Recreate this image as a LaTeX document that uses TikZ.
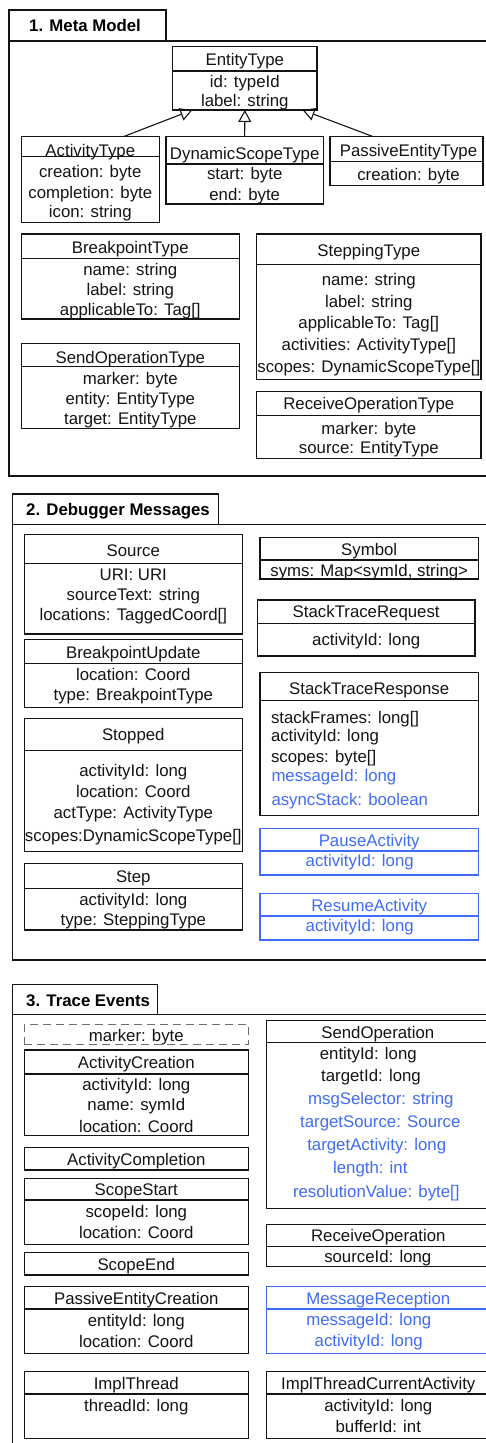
\documentclass[tikz,border=0pt]{standalone}
\usepackage{fontspec}
\setmainfont{Liberation Sans}
\usetikzlibrary{arrows.meta,calc}

\definecolor{ink}{RGB}{20,20,20}
\definecolor{newblue}{RGB}{64,108,245}
\definecolor{dashgray}{RGB}{110,110,110}

\newcounter{lblno}

% class box: [colour] name, x1, y1, x2, y2, divider y (empty for none)
\newcommand\umlbox[7][ink]{%
  \node[boxshape, draw=#1, minimum width=#5-#3, minimum height=#6-#4,
        anchor=north west] (#2) at (#3,#4) {};
  \ifx\relax#7\relax\else\draw[#1, line width=1.2pt] (#3,#7) -- (#5,#7);\fi
}
% one line of text, placed on its baseline: [colour] x, y, text
\newcommand\lbl[4][ink]{%
  \stepcounter{lblno}%
  \node[txt, text=#1] (l\arabic{lblno}) at (#2,#3) {#4};%
}
% left-aligned line of text
\newcommand\lbll[4][ink]{%
  \stepcounter{lblno}%
  \node[txt, anchor=base west, text=#1] (l\arabic{lblno}) at (#2,#3) {#4};%
}

\tikzset{
  boxshape/.style={rectangle, line width=1.2pt, inner sep=0pt, outer sep=0pt},
  txt/.style={anchor=base, inner sep=0pt, outer sep=0pt,
              font=\fontsize{16.8}{20}\selectfont},
  tabtitle/.style={anchor=base west, inner sep=0pt,
                   font=\fontsize{16.8}{20}\selectfont\bfseries},
  frameline/.style={draw=ink, line width=1.3pt},
  inh/.style={draw=ink, line width=1.1pt,
              -{Triangle[open, length=12pt, width=13pt]}},
}

\begin{document}
\begin{tikzpicture}[x=1pt, y=-1pt]
\useasboundingbox (0,0) rectangle (486,1443);
\fill[white] (0,0) rectangle (486,1443);
\clip (0,0) rectangle (486,1443);

% ---------- frames ----------
\draw[frameline] (9,10) rectangle (166,41);
\draw[frameline] (9,41) rectangle (520,476);
\node[tabtitle] (f1) at (29,31) {1. Meta Model};

\draw[frameline] (12.3,494) rectangle (218.3,524.3);
\draw[frameline] (12.3,524.3) rectangle (520,960);
\node[tabtitle] (f2) at (26,515.7) {2. Debugger Messages};

\draw[frameline] (12.3,984.3) rectangle (157.3,1014.3);
\draw[frameline] (12.3,1014.3) rectangle (520,1480);
\node[tabtitle] (f3) at (26,1006) {3. Trace Events};

% ---------- 1. Meta Model ----------
\umlbox{entity}{172.7}{46.7}{317}{110}{71}
\lbl{244.8}{65.5}{EntityType}
\lbl{244.8}{87.5}{id: typeId}
\lbl{244.8}{106}{label: string}

\umlbox{act}{21.3}{136.7}{159.3}{222.3}{156.7}
\lbl{90.3}{156}{ActivityType}
\lbl{90.3}{177.3}{creation: byte}
\lbl{90.3}{198}{completion: byte}
\lbl{90.3}{217.3}{icon: string}

\umlbox{dyn}{166}{136.7}{323.3}{204}{164}
\lbl{244.7}{159}{DynamicScopeType}
\lbl{244.7}{179.3}{start: byte}
\lbl{244.7}{200}{end: byte}

\umlbox{passive}{330}{136.7}{483}{185.3}{161.3}
\lbl{408.5}{156.7}{PassiveEntityType}
\lbl{408.5}{180}{creation: byte}

\draw[inh] ($(act.north west)!0.739!(act.north east)$)
        -- ($(entity.south west)!0.136!(entity.south east)$);
\draw[inh] (dyn.north) -- (entity.south);
\draw[inh] ($(passive.north west)!0.283!(passive.north east)$)
        -- ($(entity.south west)!0.90!(entity.south east)$);

\umlbox{bpt}{21.3}{234}{239.3}{319}{258.3}
\lbl{130.3}{253.3}{BreakpointType}
\lbl{130.3}{275}{name: string}
\lbl{130.3}{295}{label: string}
\lbl{130.3}{315.7}{applicableTo: Tag[]}

\umlbox{sendt}{21.3}{343.3}{239.3}{428.3}{366.7}
\lbl{130.3}{363.3}{SendOperationType}
\lbl{130.3}{384}{marker: byte}
\lbl{130.3}{404.3}{entity: EntityType}
\lbl{130.3}{424}{target: EntityType}

\umlbox{stept}{256.7}{234}{481}{379.3}{264.3}
\lbl{368.8}{256}{SteppingType}
\lbl{368.8}{285.7}{name: string}
\lbl{368.8}{307.3}{label: string}
\lbl{368.8}{328.3}{applicableTo: Tag[]}
\lbl{368.8}{350}{activities: ActivityType[]}
\lbl{368.8}{372.7}{scopes: DynamicScopeType[]}

\umlbox{recvt}{256.7}{391.7}{481}{458.3}{415.7}
\lbl{368.8}{409.5}{ReceiveOperationType}
\lbl{368.8}{434}{marker: byte}
\lbl{368.8}{453.3}{source: EntityType}

% ---------- 2. Debugger Messages ----------
\umlbox{source}{24.3}{534.3}{242.3}{634}{563.7}
\lbl{133.3}{556}{Source}
\lbl{133.3}{580}{URI: URI}
\lbl{133.3}{600.7}{sourceText: string}
\lbl{133.3}{620}{locations: TaggedCoord[]}

\umlbox{bpu}{24.3}{639.3}{242.3}{707.3}{663.7}
\lbl{133.3}{658.3}{BreakpointUpdate}
\lbl{133.3}{680}{location: Coord}
\lbl{133.3}{700.7}{type: BreakpointType}

\umlbox{stopped}{24.3}{718.3}{242.3}{851.7}{750.7}
\lbl{133.3}{740.7}{Stopped}
\lbl{133.3}{776}{activityId: long}
\lbl{133.3}{797.3}{location: Coord}
\lbl{133.3}{818.3}{actType: ActivityType}
\lbl{133.3}{841.7}{scopes:DynamicScopeType[]}

\umlbox{stepm}{24.3}{863.3}{242.3}{930}{888.3}
\lbl{133.3}{882.3}{Step}
\lbl{133.3}{905}{activityId: long}
\lbl{133.3}{925.7}{type: SteppingType}

\umlbox{symbol}{260}{537.3}{478.3}{579}{560}
\lbl{369.2}{555}{Symbol}
\lbl{369.2}{576.7}{syms: Map<symId, string>}

\umlbox{streq}{257.3}{600}{475}{656}{623.3}
\lbl{366.2}{617.3}{StackTraceRequest}
\lbl{366.2}{645}{activityId: long}

\umlbox{stresp}{260}{672.7}{478.3}{815.3}{700.7}
\lbl{369.2}{694}{StackTraceResponse}
\lbll{271}{723.3}{stackFrames: long[]}
\lbll{271}{741.7}{activityId: long}
\lbll{271}{762.7}{scopes: byte[]}
\lbll[newblue]{271.5}{781.7}{messageId: long}
\lbll[newblue]{271.5}{805}{asyncStack: boolean}

\umlbox[newblue]{pause}{260}{828.3}{478.3}{875}{851}
\lbl[newblue]{369.2}{846.7}{PauseActivity}
\lbl[newblue]{359.7}{866.7}{activityId: long}

\umlbox[newblue]{resume}{260}{893.3}{478.3}{940}{916}
\lbl[newblue]{369.2}{911.7}{ResumeActivity}
\lbl[newblue]{359.7}{931.7}{activityId: long}

% ---------- 3. Trace Events ----------
\node[boxshape, draw=dashgray, dashed, dash pattern=on 8pt off 5pt,
      minimum width=224pt, minimum height=20.3pt, anchor=north west]
      (marker) at (24.3,1024.3) {};
\lbl{136.3}{1041}{marker: byte}

\umlbox{actc}{24.3}{1050}{248.3}{1135.7}{1074}
\lbl{136.3}{1068.3}{ActivityCreation}
\lbl{136.3}{1090}{activityId: long}
\lbl{136.3}{1110.7}{name: symId}
\lbl{136.3}{1132.3}{location: Coord}

\umlbox{actcomp}{24.3}{1147.7}{248.3}{1170}{}
\lbl{136.3}{1165}{ActivityCompletion}

\umlbox{scstart}{24.3}{1178.3}{248.3}{1244.3}{1200}
\lbl{136.3}{1195.5}{ScopeStart}
\lbl{136.3}{1217.3}{scopeId: long}
\lbl{136.3}{1238.3}{location: Coord}

\umlbox{scend}{24.3}{1252.7}{248.3}{1275}{}
\lbl{136.3}{1270}{ScopeEnd}

\umlbox{pec}{24.3}{1286.7}{248.3}{1353.3}{1309}
\lbl{136.3}{1304}{PassiveEntityCreation}
\lbl{136.3}{1326.7}{entityId: long}
\lbl{136.3}{1347.3}{location: Coord}

\umlbox{ithread}{24.3}{1371.7}{248.3}{1438.3}{1394}
\lbl{136.3}{1389}{ImplThread}
\lbl{136.3}{1411.7}{threadId: long}

\umlbox{sendop}{266.7}{1020.7}{490}{1208.3}{1042.7}
\lbl{377.8}{1038.3}{SendOperation}
\lbl{368.3}{1059}{entityId: long}
\lbl{371}{1081.7}{targetId: long}
\lbl[newblue]{380.8}{1104}{msgSelector: string}
\lbl[newblue]{380.3}{1127.7}{targetSource: Source}
\lbl[newblue]{376.7}{1150}{targetActivity: long}
\lbl[newblue]{370.3}{1173.3}{length: int}
\lbl[newblue]{376.3}{1197.3}{resolutionValue: byte[]}

\umlbox{recvop}{266.7}{1224.3}{490}{1266.7}{1246.7}
\lbl{378.3}{1241.7}{ReceiveOperation}
\lbl{377.8}{1262.7}{sourceId: long}

\umlbox[newblue]{msgrec}{266.7}{1286.7}{490}{1353.3}{1309}
\lbl[newblue]{378.3}{1304}{MessageReception}
\lbl[newblue]{368.8}{1325}{messageId: long}
\lbl[newblue]{368.7}{1346}{activityId: long}

\umlbox{itca}{266.7}{1371.7}{490}{1438.3}{1394}
\lbl{378.3}{1389}{ImplThreadCurrentActivity}
\lbl{378.3}{1411.7}{activityId: long}
\lbl{378.3}{1432.3}{bufferId: int}
\end{tikzpicture}
\end{document}
